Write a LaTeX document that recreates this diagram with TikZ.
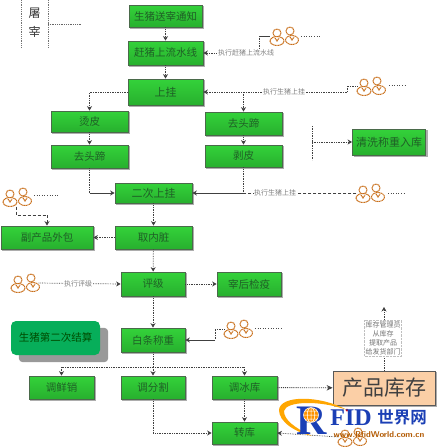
\documentclass[tikz,border=0pt]{standalone}
\usepackage{fontspec}
\setmainfont{Liberation Serif}
\newfontfamily\cjk{Noto Sans CJK SC}
\newfontfamily\cjkb{Noto Sans CJK SC Bold}
\usetikzlibrary{arrows.meta,backgrounds,calc}
\definecolor{boxtop}{HTML}{34D23A}
\definecolor{boxbot}{HTML}{27B02E}
\definecolor{boxline}{HTML}{4A6A4A}
\definecolor{boxtext}{HTML}{1F5F26}
\definecolor{conn}{HTML}{404040}
\definecolor{iconor}{HTML}{C96F1A}
\definecolor{logoblue}{HTML}{1B3FB5}
\definecolor{calcgreen}{HTML}{07AE5A}
\definecolor{stockfill}{HTML}{FBCFA6}
\tikzset{
  gbox/.style={draw=boxline,line width=0.8pt,top color=boxtop,bottom color=boxbot,
    text=boxtext,inner sep=0pt,font=\cjk\fontsize{10.5}{11}\selectfont},
  flow/.style={draw=conn,line width=0.7pt,densely dotted},
  arr/.style={flow,-{Stealth[length=4.5pt,width=5pt]}},
  solidarr/.style={draw=conn,line width=0.8pt,-{Stealth[length=4.5pt,width=5pt]}},
  tag/.style={fill=white,text=black!50,inner sep=0.5pt,font=\cjk\fontsize{7}{8}\selectfont},
  iconbox/.style={inner sep=0pt,minimum width=27pt,minimum height=19pt},
  iconline/.style={draw=iconor,line width=1pt,dash pattern=on 1.2pt off 0.5pt},
  smallmark/.style={draw=black!70,line width=1pt,dash pattern=on 1pt off 1.6pt},
}
\newcommand{\peopleicon}[3]{%
  \node[iconbox] (#1) at (#2,#3) {};
  \begin{scope}[shift={(#2,#3)}]
    \draw[iconline,fill=white] (-7,-3) circle (4);
    \draw[iconline,fill=white] (-7,5) ellipse (7 and 4.5);
    \draw[iconline] (-9,2) -- (-7,5) -- (-5,2);
    \draw[iconline,fill=white] (6,-5) circle (4);
    \draw[iconline,fill=white] (8,4) ellipse (6.5 and 4.5);
    \draw[iconline] (6,1) -- (8,4) -- (10,1);
  \end{scope}}
\begin{document}
\begin{tikzpicture}[x=1pt,y=-1pt]
\useasboundingbox (0,0) rectangle (437,447);

% top-left legend
\coordinate (legtop) at (48,0);
\coordinate (legbot) at (48,48);
\coordinate (legmid) at (48,24);
\coordinate (legend) at (81,24);
\draw[draw=black!55,line width=0.8pt,densely dotted] (21,0) -- (21,48);
\draw[draw=black!55,line width=0.8pt,densely dotted] (legtop) -- (legbot);
\draw[draw=black!60,line width=0.8pt,densely dotted] (legmid) -- (legend);
\node[inner sep=0pt,font=\cjk\fontsize{12}{13}\selectfont,text=black!80] (lega) at (34.5,13) {屠};
\node[inner sep=0pt,font=\cjk\fontsize{12}{13}\selectfont,text=black!80] (legb) at (34.5,32) {宰};

% process boxes
\node[gbox,minimum width=73pt,minimum height=22pt] (tz) at (165.5,16) {生猪送宰通知};
\node[gbox,minimum width=75pt,minimum height=24pt] (gz) at (165.5,53) {赶猪上流水线};
\node[gbox,minimum width=75pt,minimum height=26pt,font=\cjk\fontsize{11}{12}\selectfont] (sg) at (165.5,92) {上挂};
\node[gbox,minimum width=77pt,minimum height=21pt] (tp) at (89.5,121.5) {烫皮};
\node[gbox,minimum width=77pt,minimum height=23pt] (qtl) at (89.5,156.5) {去头蹄};
\node[gbox,minimum width=77pt,minimum height=23pt] (qtr) at (243.5,123.5) {去头蹄};
\node[gbox,minimum width=77pt,minimum height=22pt] (bp) at (243.5,156) {剥皮};
\node[gbox,minimum width=73pt,minimum height=26pt,font=\cjk\fontsize{11}{12}\selectfont] (qx) at (389,142) {清洗称重入库};
\node[gbox,minimum width=77pt,minimum height=20pt,font=\cjk\fontsize{11}{12}\selectfont] (ec) at (153.5,193) {二次上挂};
\node[gbox,minimum width=77pt,minimum height=23pt] (qn) at (153.5,237.5) {取内脏};
\node[gbox,minimum width=92pt,minimum height=23pt] (fc) at (47,237.5) {副产品外包};
\node[gbox,minimum width=64pt,minimum height=24pt] (pj) at (153,284) {评级};
\node[gbox,minimum width=64pt,minimum height=24pt] (zh) at (249,284) {宰后检疫};
\node[gbox,minimum width=64pt,minimum height=24pt] (bt) at (153,340) {白条称重};
\node[gbox,minimum width=65pt,minimum height=23pt] (xx) at (61.5,387.5) {调鲜销};
\node[gbox,minimum width=64pt,minimum height=23pt] (fg) at (153,387.5) {调分割};
\node[gbox,minimum width=65pt,minimum height=23pt] (bk) at (244.5,387.5) {调冰库};
\node[gbox,minimum width=65pt,minimum height=22pt] (zk) at (244.5,433) {转库};
\node[draw=black!65,line width=0.8pt,fill=stockfill,minimum width=102pt,minimum height=34pt,inner sep=0pt,
  font=\cjk\fontsize{21}{23}\selectfont,text=black!75] (cp) at (384,388) {产品库存};
\node[rounded corners=5pt,fill=calcgreen,minimum width=89pt,minimum height=34pt,inner sep=0pt,
  font=\cjk\fontsize{10.5}{11}\selectfont,text=green!30!black] (js) at (55.5,338) {生猪第二次结算};

% shadows, behind everything
\begin{scope}[on background layer]
  \fill[white] (0,0) rectangle (437,447);
  \foreach \n in {tz,gz,sg,tp,qtl,qtr,bp,qx,ec,qn,fc,pj,zh,bt,xx,fg,bk,zk,cp}{
    \fill[black!32] ($(\n.north west)+(1.6,1.6)$) rectangle ($(\n.south east)+(1.6,1.6)$);}
  \fill[black!40,rounded corners=4pt] ($(js.north west)+(8,7)$) rectangle ($(js.south east)+(8,7)$);
\end{scope}

% people icons
\peopleicon{p1}{284}{36}
\peopleicon{p2}{371}{86}
\peopleicon{p3}{370}{193}
\peopleicon{p4}{17}{197}
\peopleicon{p5}{25}{283}
\peopleicon{p6}{238}{329}
\peopleicon{p7}{352}{437}

% illegible captions beside the icons
\coordinate (m1a) at (301,36); \coordinate (m1b) at (320,36);
\coordinate (m2a) at (389,85); \coordinate (m2b) at (407,85);
\coordinate (m3a) at (388,193); \coordinate (m3b) at (406,193);
\coordinate (m4a) at (34,195); \coordinate (m4b) at (59,195);
\coordinate (m6a) at (255,328); \coordinate (m6b) at (282,328);
\foreach \a/\b in {m1a/m1b,m2a/m2b,m3a/m3b,m4a/m4b,m6a/m6b}{\draw[smallmark] (\a) -- (\b);}

% vertical flow
\draw[arr] (tz) -- (gz);
\draw[arr] (gz) -- (sg);
\draw[arr] (sg.west) -| (tp.north);
\draw[arr] (tp) -- (qtl);
\draw[arr] (qtr) -- (bp);
\draw[flow] (qtl.south) |- (89.5,193) coordinate (c1);
\draw[solidarr] (c1) -- (ec.west);
\draw[arr] (ec) -- (qn);
\draw[arr] (qn) -- (fc);
\draw[arr] (qn) -- (pj);
\draw[arr] (pj) -- (zh);
\draw[arr] (pj) -- (bt);
\draw[flow] (bt.south) -- (153,367) coordinate (sp);
\coordinate (spl) at (61.5,367);
\coordinate (spr) at (244.5,367);
\draw[flow] (spl) -- (spr);
\draw[arr] (sp) -- (fg.north);
\draw[arr] (spl) -- (xx.north);
\draw[arr] (spr) -- (bk.north);
\draw[arr] (fg.south) |- (zk.west);
\draw[arr] (bk) -- (zk);
\draw[draw=conn,line width=0.9pt,densely dotted,-{Stealth[length=6pt,width=5.5pt]}] (bk) -- (cp);

% bracket to the washing box
\coordinate (brt) at (312,126);
\coordinate (brb) at (312,160);
\coordinate (brm) at (312,142);
\draw[flow] (brt) -- (brb);
\draw[arr] (brm) -- (qx.west);

% icon connectors
\coordinate (k1) at (259,36);
\draw[arr] (k1) |- (gz.east);
\draw[draw=conn,line width=0.8pt] (k1) -- (p1.west);
\node[tag] (t1) at (246,52.5) {执行赶猪上流水线};

\coordinate (k2a) at (347,86);
\coordinate (k2b) at (347,92);
\draw[flow] (p2.west) -- (k2a) -- (k2b);
\draw[arr] (k2b) -- (sg.east);
\coordinate (k2c) at (243.5,92);
\draw[arr] (k2c) -- (qtr.north);
\node[tag] (t2) at (284,92) {执行生猪上挂};

\coordinate (k3) at (243.5,193);
\draw[draw=conn,line width=0.8pt,densely dashed] (p3.west) -- (k3);
\draw[solidarr] (k3) -- (ec.east);
\draw[flow] (bp.south) -- (k3);
\node[tag] (t3) at (275,193) {执行生猪上挂};

\coordinate (k4a) at (16,215);
\coordinate (k4b) at (47,215);
\draw[draw=conn,line width=0.8pt,densely dashed] (p4.south -| k4a) -- (k4a) -- (k4b);
\draw[solidarr,densely dashed] (k4b) -- (fc.north);

\draw[arr] (p5.east) -- (pj.west);
\node[tag] (t5) at (78,283.5) {执行评级};

\coordinate (k6a) at (215,329);
\coordinate (k6b) at (215,340);
\draw[flow] (p6.west) -- (k6a) -- (k6b);
\draw[solidarr] (k6b) -- (bt.east);

\draw[arr] (p7.west) -- (zk.east);

% outgoing stock arrow
\coordinate (out) at (384,307);
\draw[arr] (cp.north) -- (out);
\node[draw=black!25,densely dotted,fill=white,inner sep=1pt,align=center,text=black!55,
  font=\cjk\fontsize{7}{9}\selectfont] (t8) at (383,338)
  {库存管理员\\从库存\\提取产品\\给发货部门};

% logo
\fill[orange!70!yellow] (347,410) .. controls (320,395) and (280,395) .. (279,410)
  .. controls (279,422) and (295,432) .. (312,436)
  .. controls (295,428) and (284,420) .. (284,411)
  .. controls (286,401) and (320,400) .. (347,410);
\fill[red] (347,410) circle (1.5);
\node[inner sep=0pt,text=logoblue,font=\bfseries\fontsize{42}{42}\selectfont] (logoR) at (312,421) {R};
\fill[orange!85!yellow] (311,415) circle (7.5);
\draw[white,line width=0.5pt] (311,415) circle (7.5) (303.5,415) -- (318.5,415) (311,407.5) -- (311,422.5)
  (311,415) ellipse (3.8 and 7.5) (304.5,411) -- (317.5,411) (304.5,419) -- (317.5,419);
\node[inner sep=0pt,text=logoblue,font=\bfseries\fontsize{24}{24}\selectfont] (logoF) at (351,417.5) {FID};
\node[inner sep=0pt,text=logoblue,font=\cjkb\fontsize{16.5}{17}\selectfont] (logoC) at (402,417.5) {世界网};
\node[inner sep=0pt,text=orange!70!black,font=\sffamily\bfseries\fontsize{8.5}{9}\selectfont] (logoW) at (379,435) {www.RfidWorld.com.cn};
\end{tikzpicture}
\end{document}
